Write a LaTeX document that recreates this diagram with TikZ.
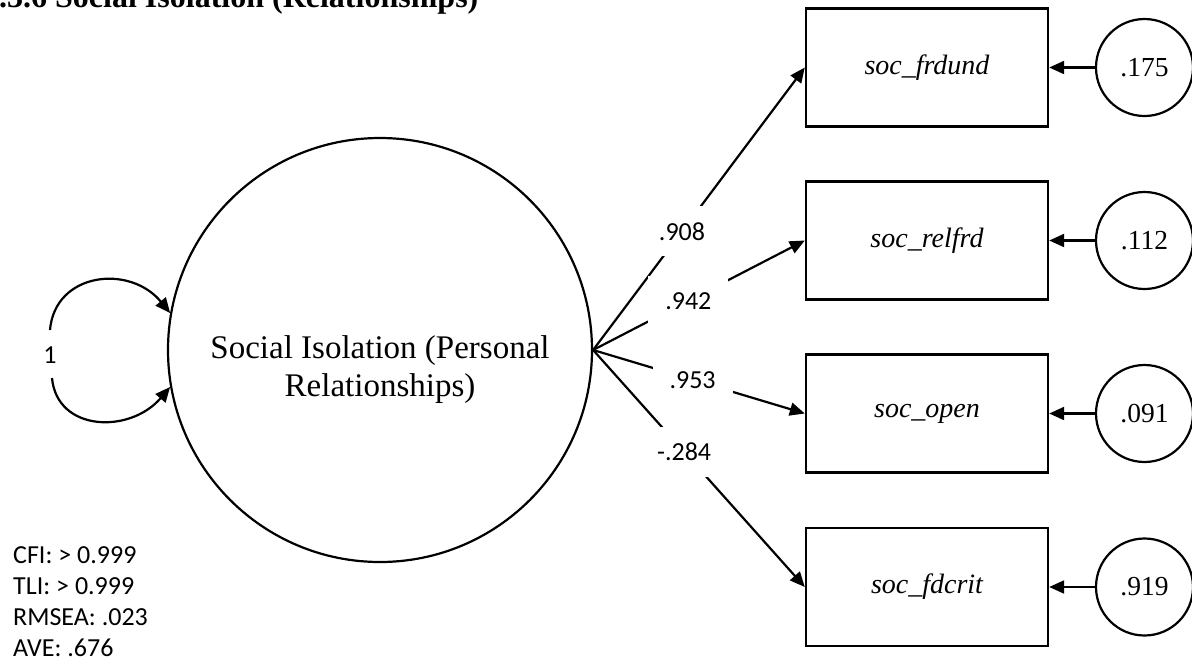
\documentclass[tikz,border=0pt]{standalone}
\usepackage{fontspec}
\setmainfont{Liberation Serif}
\newfontfamily\calib{Carlito}
\usetikzlibrary{arrows.meta}

\begin{document}
\begin{tikzpicture}[x=1pt,y=-1pt,
  every node/.style={inner sep=0pt},
  conn/.style={line width=2.2pt, -{Triangle[length=15pt,width=13pt]}},
  latent/.style={draw, circle, line width=2.2pt, minimum size=424pt},
  obs/.style={draw, line width=2.4pt, minimum width=242pt, minimum height=118pt,
    font=\fontsize{28}{32}\selectfont\itshape},
  resid/.style={draw, circle, line width=2.2pt, minimum size=97pt,
    font=\fontsize{27.5}{32}\selectfont},
  load/.style={fill=white, minimum width=80pt, minimum height=50pt,
    font=\calib\fontsize{26}{30}\selectfont},
  stat/.style={anchor=base west, font=\calib\fontsize{26}{30}\selectfont}]

\useasboundingbox (0,0) rectangle (1192,662);
\clip (0,0) rectangle (1192,662);

% heading (runs off the top edge)
\node[anchor=base west, font=\bfseries\fontsize{32}{38}\selectfont] (title)
  at (-1,7.5) {.3.6 Social Isolation (Relationships)};

% latent factor
\node[latent] (F) at (380,350) {};
\node[font=\fontsize{33}{38}\selectfont, align=center] (Ftext) at (380,370)
  {Social Isolation (Personal\\Relationships)};

% indicators
\node[obs] (o1) at (927,67.5)  {soc\_frdund};
\node[obs] (o2) at (927,240.5) {soc\_relfrd};
\node[obs] (o3) at (927,413.5) {soc\_open};
\node[obs] (o4) at (927,587)   {soc\_fdcrit};

% residual variances
\node[resid] (e1) at (1144.5,67.5)  {.175};
\node[resid] (e2) at (1144.5,240.5) {.112};
\node[resid] (e3) at (1144.5,413.5) {.091};
\node[resid] (e4) at (1144.5,587)   {.919};

\foreach \i in {1,...,4}
  \draw[conn] (e\i.west) -- (o\i.east);

% loadings
\draw[conn] (F.east) -- node[load, pos=0.42] (l1) {.908} (o1.west);
\draw[conn] (F.east) -- node[load, pos=0.45] (l2) {.942} (o2.west);
\draw[conn] (F.east) -- node[load, pos=0.47] (l3) {.953} (o3.west);
\draw[conn] (F.east) -- node[load, pos=0.43] (l4) {-.284} (o4.west);

% factor variance
\coordinate (v1) at (50,330);
\coordinate (v2) at (52,378);
\draw[conn] (v1) .. controls (55,272) and (130,264) .. (F.170);
\draw[conn] (v2) .. controls (57,432) and (130,434) .. (F.190);
\node[font=\calib\fontsize{26}{30}\selectfont] (one) at (50,355) {1};

% fit indices
\node[stat] (cfi)   at (13,563.5) {CFI: > 0.999};
\node[stat] (tli)   at (13,594.5) {TLI: > 0.999};
\node[stat] (rmsea) at (13,625.5) {RMSEA: .023};
\node[stat] (ave)   at (13,656) {AVE: .676};
\end{tikzpicture}
\end{document}
